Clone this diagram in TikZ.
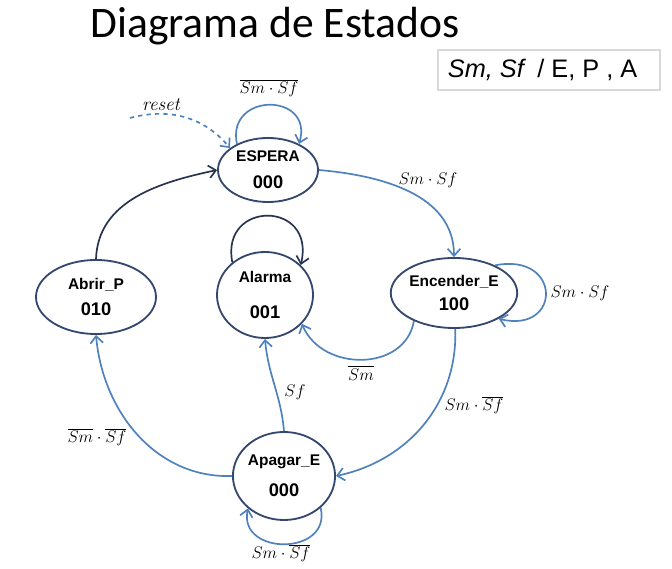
\documentclass[tikz,border=0pt]{standalone}
\usepackage{fontspec}
\newfontfamily\titlefont{Carlito}
\newfontfamily\arialfont{Liberation Sans}
\usetikzlibrary{arrows.meta,shapes.geometric}

\definecolor{edgeblue}{HTML}{4F81BD}
\definecolor{statenavy}{HTML}{34476E}
\definecolor{darkedge}{HTML}{27344F}

\newcommand{\statecode}[1]{{\fontsize{13}{15}\selectfont #1}}

\tikzset{
    state/.style={ellipse, draw=statenavy, line width=1.3pt, inner sep=0pt,
        align=center, font=\arialfont\bfseries\fontsize{11}{13}\selectfont},
    trans/.style={edgeblue, line width=1.2pt, -{Straight Barb[length=5pt,width=9pt]}},
    back/.style={trans, draw=darkedge},
    cond/.style={font=\fontsize{12}{14}\selectfont}
}

\begin{document}
\begin{tikzpicture}[x=0.025cm, y=0.025cm]

    % Fix the frame of the picture
    \useasboundingbox (0,0) rectangle (672,-569);

    % Title and legend box
    \node[anchor=base, font=\titlefont\fontsize{31}{36}\selectfont] (title) at (275,-38) {Diagrama de Estados};
    \node[draw=black!15, line width=0.8pt, minimum width=5.55cm, minimum height=1cm] (legend) at (549,-70) {};
    \node[anchor=west, font=\arialfont\fontsize{18}{20}\selectfont] (legtxt) at (443,-70) {\textit{Sm, Sf} \,/ E, P , A};

    % The five states
    \node[state, minimum width=2.5cm, minimum height=1.6cm] (esp) at (268,-170) {ESPERA\\[6pt]\statecode{000}};
    \node[state, minimum width=2.4cm, minimum height=2.15cm] (alr) at (265,-295) {Alarma\\[12pt]\statecode{001}};
    \node[state, minimum width=2.9cm, minimum height=1.75cm] (enc) at (454,-293) {Encender\_E\\[4pt]\statecode{100}};
    \node[state, minimum width=3.0cm, minimum height=1.85cm] (abr) at (96,-297) {Abrir\_P\\[5pt]\statecode{010}};
    \node[state, minimum width=2.55cm, minimum height=2.2cm] (apa) at (284,-476) {Apagar\_E\\[9pt]\statecode{000}};

    % Reset entry
    \coordinate (rs) at (130,-118);
    \draw[trans, dashed] (rs) to[out=15, in=130] (esp.150);
    \node[font=\itshape\fontsize{13.5}{15}\selectfont] (rstxt) at (161,-105) {reset};

    % Self loops
    \draw[trans] (esp.140) .. controls (226,-92) and (314,-92) .. (esp.40);
    \draw[trans] (enc.34) .. controls (562,-252) and (562,-334) .. (enc.-30);
    \draw[trans] (apa.-41) .. controls (332,-556) and (238,-556) .. (apa.-138);
    \draw[back] (alr.135) .. controls (220,-200) and (316,-200) .. (alr.40);

    % Transitions between states
    \draw[trans] (esp.east) to[out=-5, in=90] (enc.north);
    \draw[trans] (enc.215) .. controls (405,-372) and (322,-372) .. (alr.-38);
    \draw[trans] (enc.-88) to[out=-88, in=12] (apa.east);
    \draw[trans] (apa.north) to[out=95, in=-85] (alr.south);
    \draw[trans] (apa.west) to[out=182, in=-85] (abr.south);
    \draw[back] (abr.north) to[out=88, in=192] (esp.west);

    % Conditions on the transitions
    \node[cond] (c1) at (269,-88) {$\overline{Sm\cdot Sf}$};
    \node[cond] (c2) at (428,-180) {$Sm\cdot Sf$};
    \node[cond] (c3) at (580,-293) {$Sm\cdot Sf$};
    \node[cond] (c4) at (361,-373) {$\overline{Sm}$};
    \node[cond] (c5) at (474,-405) {$Sm\cdot\overline{Sf}$};
    \node[cond] (c6) at (295,-392) {$Sf$};
    \node[cond] (c7) at (281,-553) {$Sm\cdot\overline{Sf}$};
    \node[cond] (c8) at (97,-437) {$\overline{Sm}\cdot\overline{Sf}$};

\end{tikzpicture}
\end{document}
